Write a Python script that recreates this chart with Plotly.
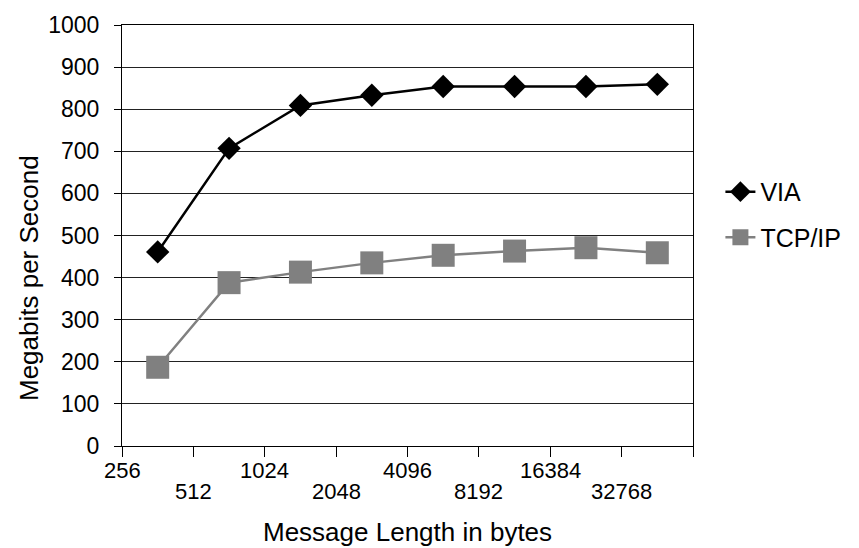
import plotly.graph_objects as go

# ---- data ----
categories = ["256", "512", "1024", "2048", "4096", "8192", "16384", "32768"]
via_mbps = [461, 707, 809, 833, 854, 854, 854, 859]
tcp_mbps = [187, 388, 413, 435, 453, 463, 471, 459]
y_ticks = [0, 100, 200, 300, 400, 500, 600, 700, 800, 900, 1000]

FONT = "Liberation Sans, Arial, sans-serif"

# category centres sit half a step right of the labelled boundaries
xpos = [i + 0.5 for i in range(len(categories))]

fig = go.Figure()
fig.add_trace(go.Scatter(
    x=xpos, y=via_mbps, name="VIA", mode="lines+markers", legendgroup="a",
    line=dict(color="black", width=2.5),
    marker=dict(symbol="diamond", size=18, color="black"),
))
fig.add_trace(go.Scatter(
    x=xpos, y=tcp_mbps, name="TCP/IP", mode="lines+markers", legendgroup="b",
    line=dict(color="#808080", width=2.5),
    marker=dict(symbol="square", size=23, color="#808080"),
))

# staggered category labels at the tick boundaries
for i, lab in enumerate(categories):
    fig.add_annotation(
        x=i, y=0, xref="x", yref="paper", text=lab, showarrow=False,
        xanchor="center", yanchor="middle",
        yshift=-24 if i % 2 == 0 else -45,
        font=dict(family=FONT, size=22, color="black"),
    )

fig.add_annotation(
    x=0.5, y=0, xref="paper", yref="paper", text="Message Length in bytes",
    showarrow=False, xanchor="center", yanchor="middle", yshift=-86,
    font=dict(family=FONT, size=26, color="black"),
)
fig.add_annotation(
    x=0, y=0.399, xref="paper", yref="paper", text="Megabits per Second",
    showarrow=False, textangle=-90, xanchor="center", yanchor="middle",
    xshift=-93,
    font=dict(family=FONT, size=26, color="black"),
)

fig.update_layout(
    width=859, height=548,
    margin=dict(l=122, r=166, t=13, b=102),
    paper_bgcolor="white", plot_bgcolor="white",
    font=dict(family=FONT, size=22, color="black"),
    showlegend=True,
    legend=dict(
        x=1.048, y=0.55, xanchor="left", yanchor="middle",
        font=dict(family=FONT, size=25, color="black"),
        bgcolor="rgba(0,0,0,0)", tracegroupgap=10,
    ),
)
fig.update_xaxes(
    range=[0, len(categories)],
    tickmode="array", tickvals=list(range(len(categories) + 1)),
    showticklabels=False,
    ticks="outside", ticklen=10, tickcolor="black", tickwidth=1,
    showline=True, linecolor="black", linewidth=1, mirror=True,
    showgrid=False, zeroline=False,
)
fig.update_yaxes(
    range=[0, 1000], tickmode="array", tickvals=y_ticks,
    ticktext=[str(v) for v in y_ticks],
    ticks="outside", ticklen=7, tickcolor="black", tickwidth=1,
    ticklabelstandoff=10,
    tickfont=dict(family=FONT, size=23, color="black"),
    showline=True, linecolor="black", linewidth=1, mirror=True,
    showgrid=True, gridcolor="#222222", gridwidth=1, zeroline=False,
)

fig.write_html("out.html")
